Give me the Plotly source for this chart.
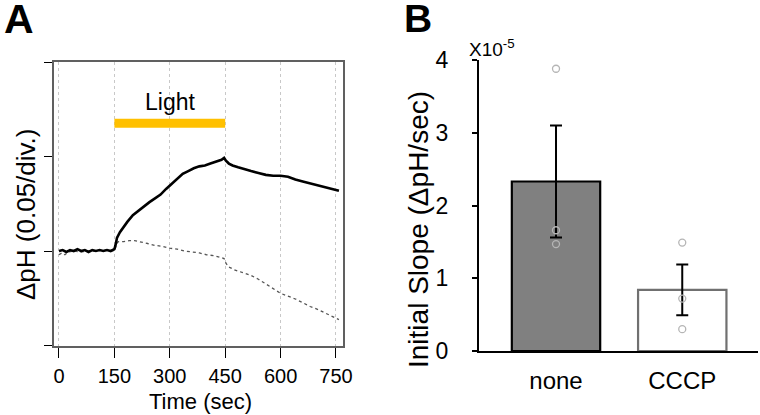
import plotly.graph_objects as go

# ---------------- data ----------------
# Panel A: pH traces (units: divisions of 0.05 pH)
t_none = [0,10,20,30,40,50,60,70,80,90,100,110,120,130,140,150,153,157,165,175,185,200,215,230,245,260,
          275,290,305,320,335,350,365,380,395,410,425,440,447,452,460,470,485,500,520,540,560,580,600,620,
          640,660,680,700,720,740,758]
v_none = [0.00,0.01,-0.01,0.01,0.00,0.02,0.00,0.01,-0.01,0.01,0.00,0.01,0.00,0.01,0.00,0.02,0.06,0.14,0.20,
          0.26,0.31,0.38,0.43,0.47,0.52,0.56,0.60,0.66,0.71,0.77,0.82,0.85,0.88,0.90,0.91,0.93,0.95,0.97,
          0.99,0.96,0.93,0.91,0.89,0.87,0.85,0.83,0.81,0.80,0.80,0.79,0.76,0.74,0.72,0.70,0.68,0.66,0.64]
t_cccp = [0,8,16,25,40,60,80,100,120,140,150,155,160,175,190,205,220,240,260,280,300,320,340,360,380,400,
          420,440,447,452,460,475,500,520,540,560,580,600,620,640,660,680,700,720,740,758]
v_cccp = [-0.04,-0.02,-0.04,-0.01,0.00,-0.01,0.00,0.00,0.01,0.00,0.00,0.06,0.10,0.10,0.11,0.11,0.10,0.08,
          0.06,0.05,0.03,0.02,0.00,-0.01,-0.02,-0.04,-0.05,-0.07,-0.08,-0.13,-0.17,-0.20,-0.23,-0.26,-0.30,
          -0.35,-0.40,-0.45,-0.48,-0.51,-0.55,-0.59,-0.62,-0.66,-0.70,-0.73]
light_t = [150, 450]
light_level = [1.36, 1.36]
time_ticks = [0, 150, 300, 450, 600, 750]
div_ticks = [-1, 0, 1, 2]

# Panel B: initial slopes (x1e-5 dpH/sec)
groups = ["none", "CCCP"]
slope_mean = [2.33, 0.84]
slope_sem = [0.77, 0.35]
pts_none = [3.88, 1.66, 1.47]
pts_cccp = [1.49, 0.72, 0.30]
slope_ticks = [0, 1, 2, 3, 4]

FONT = "Liberation Sans, Arial, sans-serif"
W, H = 760, 415

fig = go.Figure()

# ---- Panel A ----
fig.add_trace(go.Scatter(x=t_cccp, y=v_cccp, mode="lines", xaxis="x", yaxis="y",
                         line=dict(color="#555555", width=1.3, dash="dot"), showlegend=False))
fig.add_trace(go.Scatter(x=t_none, y=v_none, mode="lines", xaxis="x", yaxis="y",
                         line=dict(color="black", width=2.6), showlegend=False))
fig.add_trace(go.Scatter(x=light_t, y=light_level, mode="lines", xaxis="x", yaxis="y",
                         line=dict(color="#FFC000", width=9), showlegend=False))

# ---- Panel B ----
fig.add_trace(go.Bar(x=[0, 1], y=slope_mean, xaxis="x2", yaxis="y2", width=0.7,
                     marker=dict(color=["#808080", "white"],
                                 line=dict(color=["black", "#707070"], width=2.2)),
                     error_y=dict(type="data", array=slope_sem, color="black", thickness=2, width=6),
                     showlegend=False))
fig.add_trace(go.Scatter(x=[0] * len(pts_none) + [1] * len(pts_cccp), y=pts_none + pts_cccp,
                         mode="markers", xaxis="x2", yaxis="y2",
                         marker=dict(symbol="circle-open", size=7, color="#b5b5b5", line=dict(width=1.3)),
                         showlegend=False))


def px(x):
    return x / W


def py(y):
    return 1 - y / H


def ann(text, x, y, size, bold=False, angle=0):
    return dict(text=f"<b>{text}</b>" if bold else text, x=px(x), y=py(y), xref="paper", yref="paper",
                xanchor="center", yanchor="middle", showarrow=False, textangle=angle,
                font=dict(size=size, family=FONT, color="black"))


fig.update_layout(
    template="none",
    width=W, height=H, margin=dict(l=0, r=0, t=0, b=0, pad=0, autoexpand=False),
    paper_bgcolor="white", plot_bgcolor="white", showlegend=False,
    font=dict(family=FONT, color="black"),
    xaxis=dict(domain=[px(54), px(343)], range=[-13.5, 769], tickvals=time_ticks, automargin=False,
               ticks="outside", ticklen=10, tickcolor="black", tickwidth=1.2,
               tickfont=dict(size=20), ticklabelstandoff=1,
               showgrid=True, gridcolor="#c8c8c8", griddash="dot", gridwidth=1,
               showline=True, mirror=True, linecolor="#606060", linewidth=1.5, zeroline=False),
    yaxis=dict(domain=[py(346), py(62)], range=[-1.01, 2.01], tickvals=div_ticks, automargin=False,
               ticks="outside", ticklen=8, tickcolor="black", tickwidth=1.2, showticklabels=False,
               showgrid=False, showline=True, mirror=True, linecolor="#606060", linewidth=1.5,
               zeroline=False),
    xaxis2=dict(domain=[px(479), px(758)], range=[-0.61, 1.6], tickvals=[0, 1], ticktext=groups,
                anchor="y2", automargin=False,
                ticks="", tickfont=dict(size=24), ticklabelstandoff=7,
                showgrid=False, showline=True, linecolor="black", linewidth=2.2, zeroline=False),
    yaxis2=dict(domain=[py(351), py(60)], range=[0, 4], tickvals=slope_ticks, anchor="x2", automargin=False,
                ticks="outside", ticklen=5, tickwidth=2, tickcolor="black",
                tickfont=dict(size=23), ticklabelstandoff=19,
                showgrid=False, showline=True, linecolor="black", linewidth=2.2, zeroline=False),
    annotations=[
        ann("A", 19, 19, 41, bold=True),
        ann("B", 418, 19, 39, bold=True),
        dict(text="Light", x=300, y=1.58, xref="x", yref="y", showarrow=False,
             xanchor="center", yanchor="middle", font=dict(size=23, family=FONT, color="black")),
        ann("Time (sec)", 200, 401, 22),
        ann("ΔpH (0.05/div.)", 26, 214, 26, angle=-90),
        ann("Initial Slope (ΔpH/sec)", 418, 230, 28, angle=-90),
        ann("X10<sup>-5</sup>", 492, 48, 19),
    ],
)

fig.write_html("out.html", config={"displayModeBar": False},
               post_script="document.body.style.margin='0px';document.body.style.padding='0px';")
